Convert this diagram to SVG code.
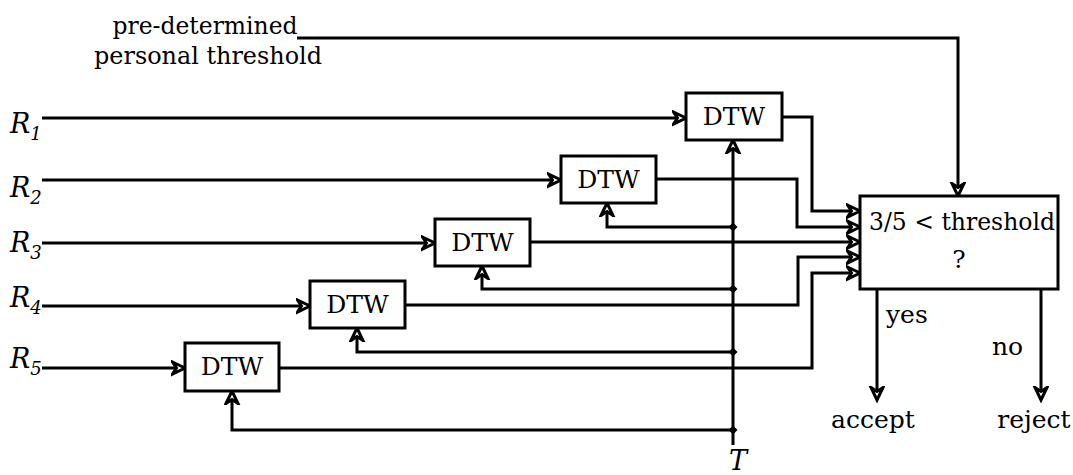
<svg xmlns="http://www.w3.org/2000/svg" width="1073" height="475" viewBox="0 0 1073 475">
<style>
text{font-family:"DejaVu Serif","Liberation Serif",serif;font-size:25px;fill:#000}
.c{text-anchor:middle}
.i{font-style:italic;font-size:27px}
.s{font-style:italic;font-size:18px}
.box{fill:#fff;stroke:#000;stroke-width:3}
.ln{fill:none;stroke:#000;stroke-width:3}
.a{marker-end:url(#arr)}
</style>
<defs>
<marker id="arr" markerUnits="userSpaceOnUse" markerWidth="18" markerHeight="18" refX="14" refY="8" orient="auto">
<path d="M1.5,2 L14,8 L1.5,14 L5.5,8 Z" fill="#fff" stroke="#000" stroke-width="3" stroke-linejoin="miter"/>
</marker>
</defs>
<g id="connectors">
<path class="ln a" d="M297,38 H958 V196"/>
<path class="ln a" d="M42,118 H686"/>
<path class="ln a" d="M42,180 H561"/>
<path class="ln a" d="M42,243 H435"/>
<path class="ln a" d="M42,306 H310"/>
<path class="ln a" d="M42,368 H185"/>
<path class="ln a" d="M733,445 V140"/>
<path class="ln a" d="M733,227 H607 V203"/>
<path class="ln a" d="M733,289 H482 V266"/>
<path class="ln a" d="M733,352 H357 V328"/>
<path class="ln a" d="M733,430 H232 V391"/>
<path class="ln a" d="M782,117 H812 V211 H860"/>
<path class="ln a" d="M656,179 H797 V227 H860"/>
<path class="ln a" d="M530,242 H860"/>
<path class="ln a" d="M405,305 H798 V257 H860"/>
<path class="ln a" d="M279,368 H812 V273 H860"/>
<path class="ln a" d="M877,289 V400"/>
<path class="ln a" d="M1041,289 V400"/>
<g fill="#000">
<path d="M733,222.5 L737.5,227 L733,231.5 L728.5,227 Z"/>
<path d="M733,284.5 L737.5,289 L733,293.5 L728.5,289 Z"/>
<path d="M733,347.5 L737.5,352 L733,356.5 L728.5,352 Z"/>
<path d="M733,425.5 L737.5,430 L733,434.5 L728.5,430 Z"/>
</g>
</g>
<g id="threshold-label">
<text class="c" x="205" y="34" textLength="185" lengthAdjust="spacingAndGlyphs">pre-determined</text>
<text class="c" x="208" y="64" textLength="228" lengthAdjust="spacingAndGlyphs">personal threshold</text>
</g>
<g id="R1"><text class="i" x="10" y="133">R<tspan class="s" dy="7">1</tspan></text></g>
<g id="R2"><text class="i" x="10" y="197">R<tspan class="s" dy="7">2</tspan></text></g>
<g id="R3"><text class="i" x="10" y="252">R<tspan class="s" dy="7">3</tspan></text></g>
<g id="R4"><text class="i" x="10" y="307">R<tspan class="s" dy="7">4</tspan></text></g>
<g id="R5"><text class="i" x="10" y="368">R<tspan class="s" dy="7">5</tspan></text></g>
<g id="T"><text class="i" x="738" y="470" text-anchor="middle">T</text></g>
<g id="dtw1"><rect class="box" x="686" y="93" width="96" height="47"/><text class="c" x="734" y="125">DTW</text></g>
<g id="dtw2"><rect class="box" x="561" y="156" width="95" height="47"/><text class="c" x="608.5" y="188">DTW</text></g>
<g id="dtw3"><rect class="box" x="435" y="219" width="95" height="47"/><text class="c" x="482.5" y="251">DTW</text></g>
<g id="dtw4"><rect class="box" x="310" y="281" width="95" height="47"/><text class="c" x="357.5" y="313">DTW</text></g>
<g id="dtw5"><rect class="box" x="185" y="343" width="94" height="48"/><text class="c" x="232" y="375">DTW</text></g>
<g id="decision">
<rect class="box" x="860" y="196" width="198" height="93"/>
<text class="c" x="962" y="230" textLength="186" lengthAdjust="spacingAndGlyphs">3/5 &lt; threshold</text>
<text class="c" x="959" y="268">?</text>
</g>
<g id="yes"><text x="886" y="323">yes</text></g>
<g id="no"><text x="992" y="355">no</text></g>
<g id="accept"><text class="c" x="873" y="428">accept</text></g>
<g id="reject"><text class="c" x="1034" y="428">reject</text></g>
</svg>
